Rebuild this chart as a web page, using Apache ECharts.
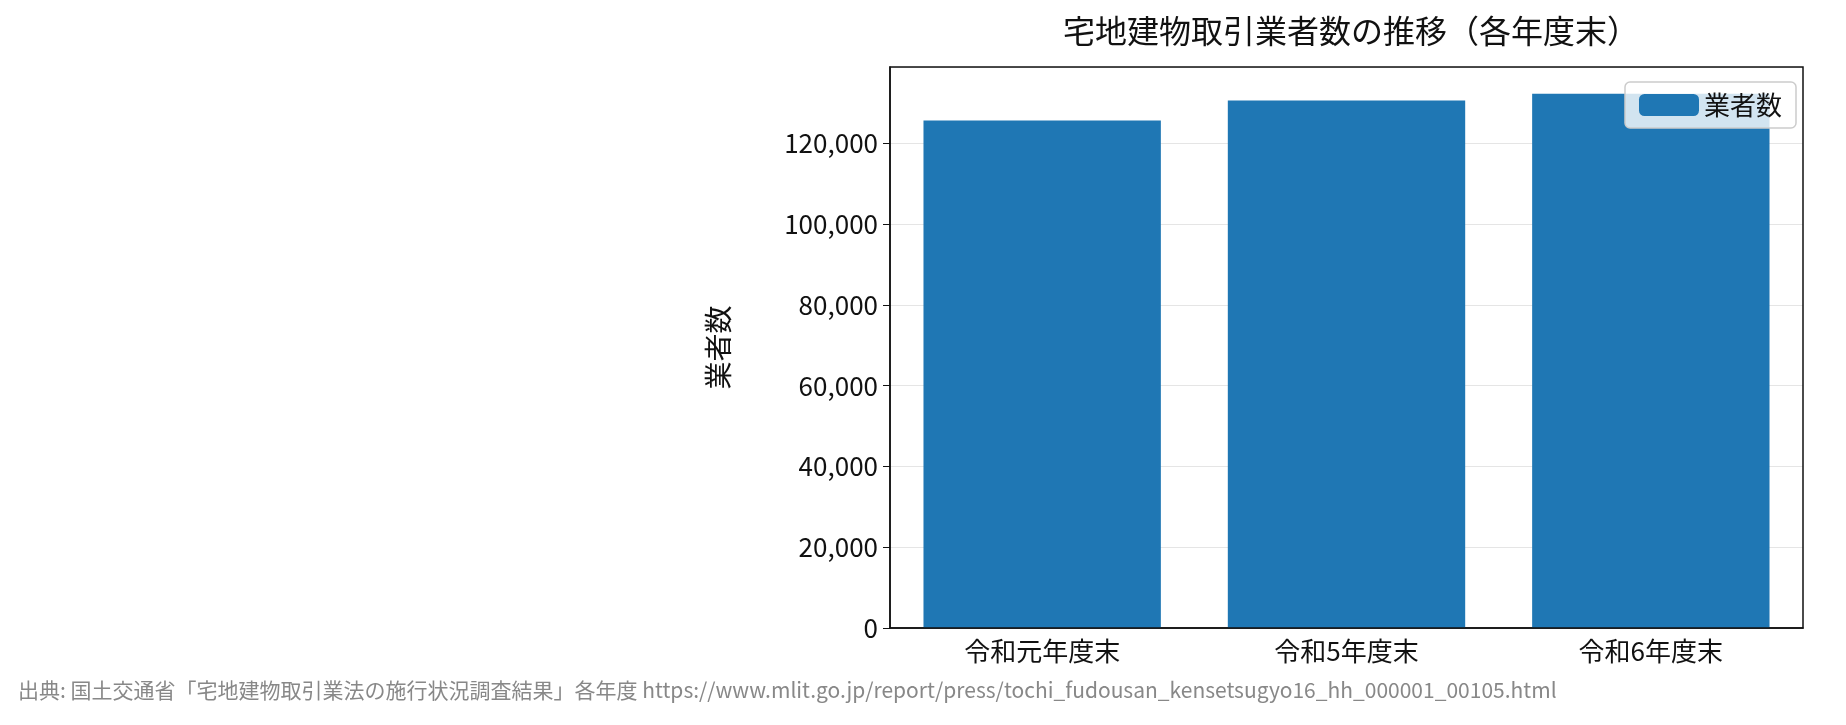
<!DOCTYPE html><html><head><meta charset="utf-8"><script src="https://cdn.jsdelivr.net/npm/echarts@6/dist/echarts.min.js"></script>
<style>html,body{margin:0;background:#fff}#c{width:1846px;height:725px}</style></head><body><div id="c"></div><script>
const categories=["令和元年度末","令和5年度末","令和6年度末"];
const values=[125638,130583,132291];
const seriesName="業者数";
const F='"Noto Sans CJK JP"';
const ch=echarts.init(document.getElementById('c'));
ch.setOption({animation:false,
title:{text:"宅地建物取引業者数の推移（各年度末）",left:1346,top:10,textAlign:'center',textStyle:{fontFamily:F,fontSize:32,fontWeight:'normal',color:'#111'}},
graphic:[{type:'text',left:18,top:680,style:{text:"出典: 国土交通省「宅地建物取引業法の施行状況調査結果」各年度 https://www.mlit.go.jp/report/press/tochi_fudousan_kensetsugyo16_hh_000001_00105.html",font:'21px "Noto Sans CJK JP"',fill:'#888'}}],
legend:{right:50,top:82,itemWidth:60,itemHeight:22,padding:[10,14],backgroundColor:'rgba(255,255,255,0.8)',borderColor:'#ccc',borderWidth:1.5,borderRadius:5,textStyle:{fontFamily:F,fontSize:26,color:'#111'}},
grid:{left:890,right:43,top:67,bottom:97},
xAxis:{type:'category',data:categories,axisLine:{lineStyle:{color:'#111',width:1.5}},axisTick:{alignWithLabel:true,length:7,lineStyle:{color:'#111'}},axisLabel:{fontFamily:F,fontSize:26,color:'#111',margin:10},splitLine:{show:false}},
yAxis:{type:'value',min:0,max:138900,interval:20000,name:seriesName,nameLocation:'middle',nameGap:158,nameTextStyle:{fontFamily:F,fontSize:28,color:'#111'},
axisLine:{show:true,lineStyle:{color:'#111',width:1.5}},axisTick:{show:true,length:7,lineStyle:{color:'#111'}},
axisLabel:{fontFamily:F,fontSize:26,color:'#111',margin:12,formatter:v=>v.toLocaleString('en-US'),showMaxLabel:false},splitLine:{lineStyle:{color:'#e5e5e5'}}},
series:[{name:seriesName,type:'bar',data:values,barCategoryGap:'22%',itemStyle:{color:'#1f77b4'}}]
});
// frame top/right
ch.setOption({graphic:[{type:'text',left:18,top:680,style:{text:"出典: 国土交通省「宅地建物取引業法の施行状況調査結果」各年度 https://www.mlit.go.jp/report/press/tochi_fudousan_kensetsugyo16_hh_000001_00105.html",font:'21px "Noto Sans CJK JP"',fill:'#888'}},{type:'rect',shape:{x:890,y:67,width:913,height:561},style:{fill:'none',stroke:'#111',lineWidth:1.5},z:10}]});
</script></body></html>
